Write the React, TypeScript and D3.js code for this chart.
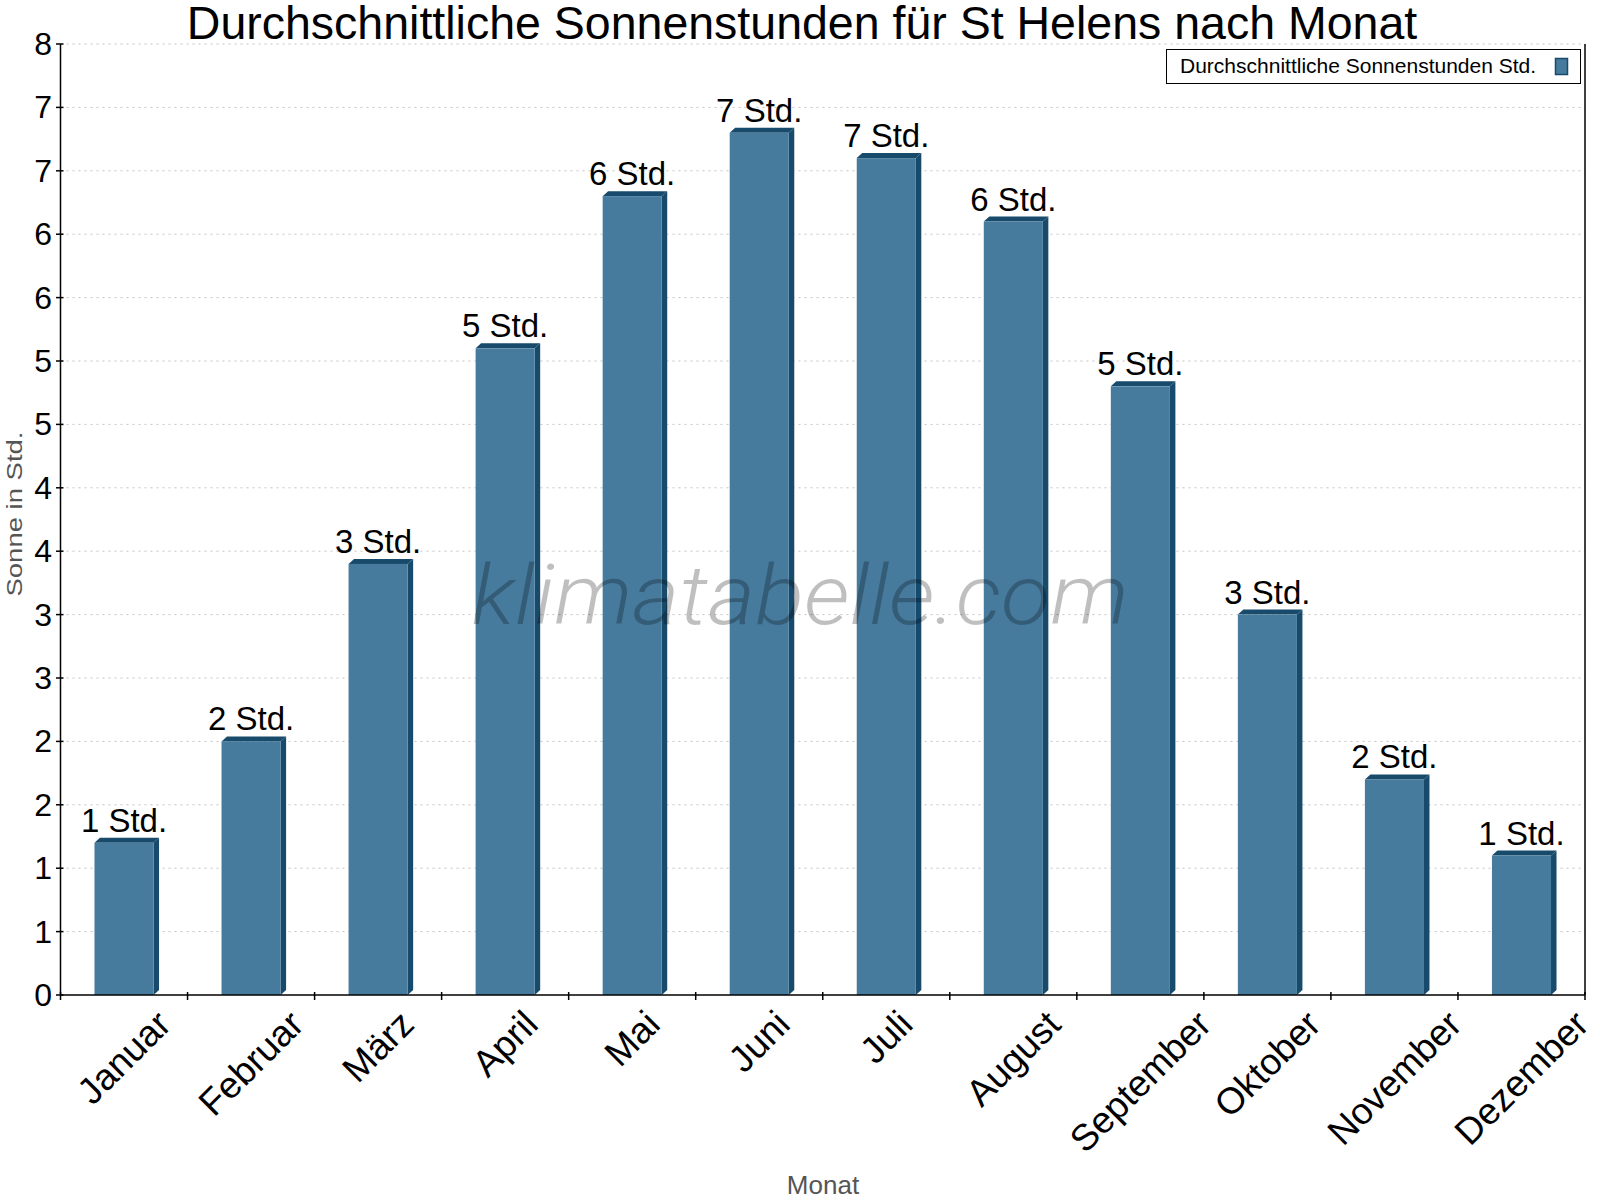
import * as React from 'react';
import * as d3 from 'd3';

const months = [
  'Januar', 'Februar', 'März', 'April', 'Mai', 'Juni',
  'Juli', 'August', 'September', 'Oktober', 'November', 'Dezember',
];
const sunHours = [1.2, 2.0, 3.4, 5.1, 6.3, 6.8, 6.6, 6.1, 4.8, 3.0, 1.7, 1.1];
const yTicks = [0, 0.5, 1, 1.5, 2, 2.5, 3, 3.5, 4, 4.5, 5, 5.5, 6, 6.5, 7, 7.5];

const title = 'Durchschnittliche Sonnenstunden für St Helens nach Monat';
const seriesName = 'Durchschnittliche Sonnenstunden Std.';
const unit = 'Std.';
const yTitle = 'Sonne in Std.';
const xTitle = 'Monat';
const watermark = 'klimatabelle.com';

const FONT = '"Liberation Sans", Arial, sans-serif';
const FRONT = '#467b9e';
const DARK = '#174a6b';

const App: React.FC = () => {
  const labelsRef = React.useRef<SVGGElement | null>(null);

  const width = 1600;
  const height = 1200;
  const margin = { top: 44, right: 15, bottom: 205, left: 60.5 };

  const x = d3
    .scaleBand()
    .domain(months)
    .range([margin.left, width - margin.right]);

  const y = d3
    .scaleLinear()
    .domain([0, 7.5])
    .range([height - margin.bottom, margin.top]);

  const barW = x.bandwidth() * 0.465;
  const dx = 5.5;
  const dy = 5;
  const y0 = y(0);

  // rotated month labels: bounding box centred on the band, top on a fixed line
  React.useEffect(() => {
    if (!labelsRef.current) return;
    const g = d3.select(labelsRef.current);
    g.selectAll('*').remove();
    const labelTop = 1006;
    months.forEach((m) => {
      const cx = (x(m) as number) + x.bandwidth() / 2;
      const t = g
        .append('text')
        .attr('text-anchor', 'middle')
        .attr('dominant-baseline', 'central')
        .attr('font-size', 37)
        .attr('font-family', FONT)
        .attr('fill', '#000')
        .text(m);
      const bb = (t.node() as SVGTextElement).getBBox();
      const rotH = (bb.width + bb.height * 0.8) * Math.SQRT1_2;
      t.attr('transform', `translate(${cx}, ${labelTop + rotH / 2}) rotate(-45)`);
    });
  }, []);

  return (
    <svg
      width={width}
      height={height}
      style={{ position: 'absolute', left: 0, top: 0, background: '#fff' }}
    >
      {/* grid */}
      <g>
        {yTicks.filter((t) => t > 0).map((t) => (
          <line
            key={t}
            x1={margin.left}
            x2={width - margin.right}
            y1={y(t)}
            y2={y(t)}
            stroke="#c4c4c4"
            strokeWidth={1}
            strokeDasharray="2,4"
          />
        ))}
      </g>

      {/* bars */}
      <g>
        {sunHours.map((v, i) => {
          const cx = (x(months[i]) as number) + x.bandwidth() / 2;
          const l = cx - barW / 2;
          const r = cx + barW / 2;
          const top = y(v);
          return (
            <g key={months[i]}>
              <polygon
                points={`${r},${y0} ${r},${top} ${r + dx},${top - dy} ${r + dx},${y0 - dy}`}
                fill={DARK}
              />
              <polygon
                points={`${l},${top} ${l + dx},${top - dy} ${r + dx},${top - dy} ${r},${top}`}
                fill={DARK}
              />
              <rect x={l} y={top} width={barW} height={y0 - top} fill={FRONT} />
              <text
                x={cx}
                y={top - 11}
                textAnchor="middle"
                fontSize={33}
                fontFamily={FONT}
                fill="#000"
              >
                {`${Math.round(v)} ${unit}`}
              </text>
            </g>
          );
        })}
      </g>

      {/* watermark */}
      <text
        x={800}
        y={624}
        textAnchor="middle"
        fontSize={84}
        fontFamily="Roboto, sans-serif"
        fontWeight={300}
        fontStyle="italic"
        fill="#000"
        fillOpacity={0.25}
        textLength={657}
        lengthAdjust="spacingAndGlyphs"
      >
        {watermark}
      </text>

      {/* axes */}
      <g stroke="#000" strokeWidth={1.5} fill="none">
        <line x1={margin.left} x2={margin.left} y1={margin.top} y2={y0} />
        <line x1={margin.left} x2={width - margin.right} y1={y0} y2={y0} />
        <line x1={width - margin.right} x2={width - margin.right} y1={margin.top} y2={y0} />
        {yTicks.map((t) => (
          <line key={t} x1={margin.left - 4.5} x2={margin.left + 3} y1={y(t)} y2={y(t)} />
        ))}
        {[...months.map((m) => x(m) as number), width - margin.right].map((tx, i) => (
          <line key={i} x1={tx} x2={tx} y1={y0 - 3} y2={y0 + 5} />
        ))}
      </g>

      {/* y tick labels */}
      <g>
        {yTicks.map((t) => (
          <text
            key={t}
            x={52}
            y={y(t)}
            textAnchor="end"
            dominantBaseline="central"
            fontSize={32}
            fontFamily={FONT}
            fill="#000"
          >
            {Math.round(t)}
          </text>
        ))}
      </g>

      <g ref={labelsRef} />

      {/* titles */}
      <text x={802} y={39} textAnchor="middle" fontSize={46.5} fontFamily={FONT} fill="#000">
        {title}
      </text>
      <text
        transform={`translate(22, 514) rotate(-90)`}
        textAnchor="middle"
        fontSize={22}
        fontFamily={FONT}
        fill="#555"
        textLength={165}
        lengthAdjust="spacingAndGlyphs"
      >
        {yTitle}
      </text>
      <text x={823} y={1194} textAnchor="middle" fontSize={26} fontFamily={FONT} fill="#555">
        {xTitle}
      </text>

      {/* legend */}
      <g>
        <rect x={1166.5} y={49.5} width={414} height={34} fill="#fff" stroke="#000" strokeWidth={1} />
        <text x={1180} y={73} fontSize={21} fontFamily={FONT} fill="#000">
          {seriesName}
        </text>
        <rect x={1555.5} y={58.5} width={12} height={16} fill={FRONT} stroke={DARK} strokeWidth={1.5} />
      </g>
    </svg>
  );
};

export default App;
